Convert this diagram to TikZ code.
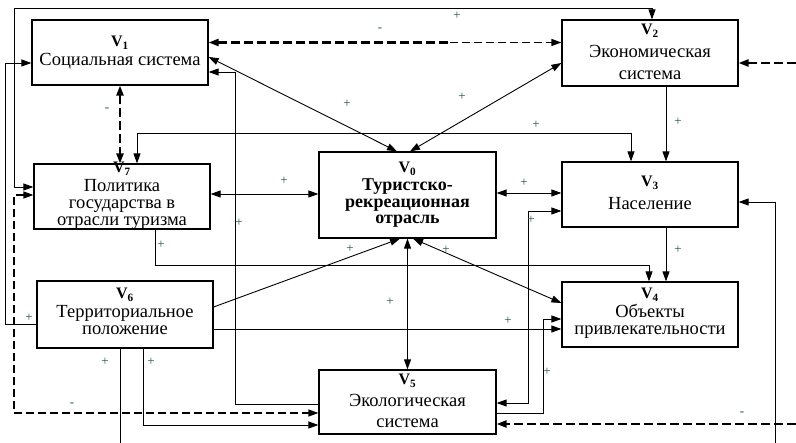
\documentclass[tikz,border=0pt]{standalone}
\usepackage{fontspec}
\setmainfont{Liberation Serif}
\usetikzlibrary{arrows.meta}
\definecolor{pm}{RGB}{30,90,50}
\newcommand{\vlab}[1]{{\fontsize{16}{16}\selectfont\bfseries V\textsubscript{#1}}}
\begin{document}
\begin{tikzpicture}[x=1pt,y=-1pt,
  box/.style={draw, line width=1.2pt, minimum width=176pt, minimum height=65pt, inner sep=0pt},
  txt/.style={align=center, inner sep=0pt, anchor=base},
  conn/.style={line width=0.9pt},
  dthick/.style={line width=2.2pt, dash pattern=on 9pt off 4pt},
  dthin/.style={line width=1.3pt, dash pattern=on 8pt off 4pt},
  lab/.style={text=pm, font=\fontsize{13}{13}\selectfont, inner sep=0pt},
  >={Triangle[length=10pt,width=7pt]}
]
\useasboundingbox (0,0) rectangle (796,443);

% boxes
\node[box] (v1) at (120,52.5) {};
\node[box, minimum height=66pt] (v2) at (650,53) {};
\node[box] (v7) at (122,196.5) {};
\node[box, minimum width=177pt, minimum height=86pt] (v0) at (407.5,195) {};
\node[box] (v3) at (650,194.5) {};
\node[box, minimum height=67pt] (v6) at (125,314.5) {};
\node[box] (v4) at (650,314.5) {};
\node[box, minimum width=177pt, minimum height=64pt] (v5) at (407.5,402) {};

% texts (base anchor = baseline of last line)
\node[txt, font=\fontsize{18.5}{17.5}\selectfont] (t1) at (120,66) {\vlab{1}\\[1.5pt]Социальная система};
\node[txt, font=\fontsize{18.5}{22.5}\selectfont] (t2) at (650,80) {\vlab{2}\\Экономическая\\система};
\node[txt, font=\fontsize{18.5}{17}\selectfont] (t7) at (122,226) {\vlab{7}\\[2pt]Политика\\государства в\\отрасли туризма};
\node[txt, font=\fontsize{18}{16.5}\selectfont\bfseries] (t0) at (407.5,224) {\vlab{0}\\[2pt]Туристско-\\рекреационная\\отрасль};
\node[txt, font=\fontsize{18.5}{23}\selectfont] (t3) at (650,210) {\vlab{3}\\Население};
\node[txt, font=\fontsize{18.5}{17}\selectfont] (t6) at (125,335) {\vlab{6}\\[2pt]Территориальное\\положение};
\node[txt, font=\fontsize{18.5}{17.5}\selectfont] (t4) at (650,335) {\vlab{4}\\[1pt]Объекты\\привлекательности};
\node[txt, font=\fontsize{18.5}{21.5}\selectfont] (t5) at (407.5,428) {\vlab{5}\\Экологическая\\система};

% free ends
\coordinate (r2) at (796,63);
\coordinate (r5) at (796,424);
\coordinate (b3) at (775,443);
\coordinate (b6) at (120,443);
\coordinate (m12) at (450,42.5);

% V7 <-> V2 (top)
\draw[conn,<->] (v7.west |- 0,187) -| (14,8) -| (v2.north -| 652,0);
\node[lab] (l1) at (457,16) {+};
% V1 <-> V2 dashed
\draw[dthick,<-] (v1.east |- 0,42.5) -- (m12);
\draw[dthin,->] (m12) -- (v2.west |- 0,42.5);
\node[lab] (l2) at (380,30) {-};
% V1 <-> V0
\draw[conn,<->] (v1.east |- 0,57) -- (v0.north -| 397,0);
\node[lab] (l3) at (347,104) {+};
% V2 <-> V0
\draw[conn,<->] (v2.west |- 0,63) -- (v0.north -| 410,0);
\node[lab] (l4) at (462,97) {+};
% V1 <-> V7 dashed
\draw[dthick,<->] (v1.south -| 120,0) -- (v7.north -| 120,0);
\node[lab] (l5) at (107,110) {-};
% V7 <-> V3
\draw[conn,<->] (v7.north -| 137,0) |- (631,133) -- (v3.north -| 631,0);
\node[lab] (l6) at (536,125) {+};
% V2 -> V3
\draw[conn,->] (v2.south -| 666,0) -- (v3.north -| 666,0);
\node[lab] (l7) at (678,122) {+};
% right dashed -> V2
\draw[dthick,->] (r2) -- (v2.east |- r2);
% V7 <-> V0
\draw[conn,<->] (v7.east |- 0,194) -- (v0.west |- 0,194);
\node[lab] (l8) at (284,181) {+};
% V0 <-> V3
\draw[conn,<->] (v0.east |- 0,193) -- (v3.west |- 0,193);
\node[lab] (l9) at (524,183) {+};
% V5 <-> V3
\draw[conn,<->] (v5.east |- 0,403) -| (528,211) -- (v3.west |- 0,211);
\node[lab] (l10) at (531,220) {+};
% V3 -> V4
\draw[conn,->] (v3.south -| 666,0) -- (v4.north -| 666,0);
\node[lab] (l11) at (678,250) {+};
% bottom -> V3
\draw[conn,->] (b3) |- (v3.east |- 0,202);
% V6 -> bottom
\draw[conn] (v6.south -| 120,0) -- (b6);
\node[lab] (l12) at (105,362) {+};
% V6 -> V5
\draw[conn,->] (v6.south -| 143,0) |- (v5.west |- 0,425);
\node[lab] (l13) at (151,362) {+};
% V7 <-> V5 dashed
\draw[dthin,<->] (v7.west |- 0,195) -| (14,413) -- (v5.west |- 0,413);
\node[lab] (l14) at (72,405) {-};
% V6 -> V1
\draw[conn,->] (v6.west |- 0,324) -| (5,63) -- (v1.west |- 0,63);
\node[lab] (l15) at (29,318) {+};
% V6 -> V0
\draw[conn,->] (v6.east |- 0,307) -- (v0.south -| 400,0);
\node[lab] (l16) at (350,249) {+};
% V0 <-> V5
\draw[conn,<->] (v0.south) -- (v5.north);
\node[lab] (l17) at (390,302) {+};
% V0 <-> V4
\draw[conn,<->] (v0.south -| 413,0) -- (v4.west |- 0,303);
\node[lab] (l18) at (446,250) {+};
% V7 -> V4
\draw[conn,->] (v7.south -| 155,0) |- (649,265) -- (v4.north -| 649,0);
\node[lab] (l19) at (161,245) {+};
% V6 -> V4
\draw[conn,->] (v6.east |- 0,329) -- (v4.west |- 0,329);
\node[lab] (l20) at (508,321) {+};
% V5 -> V4
\draw[conn,->] (v5.east |- 0,413) -| (543,319) -- (v4.west |- 0,319);
\node[lab] (l21) at (547,372) {+};
% V5 -> V1
\draw[conn,->] (v5.west |- 0,404) -| (235,72) -- (v1.east |- 0,72);
\node[lab] (l22) at (239,223) {+};
% right dashed -> V5
\draw[dthick,->] (r5) -- (v5.east |- r5);
\node[lab] (l23) at (742,414) {-};
\end{tikzpicture}
\end{document}
